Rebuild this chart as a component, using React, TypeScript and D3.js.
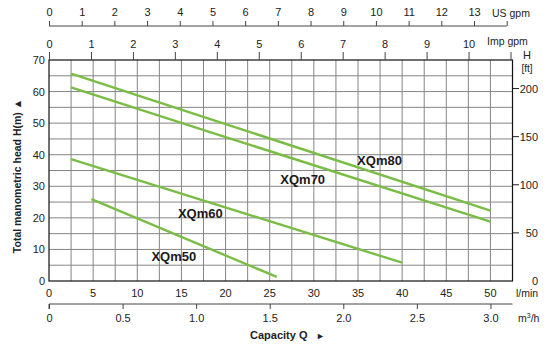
import React, { useEffect, useRef } from 'react';
import * as d3 from 'd3';

// pump curves, flow in l/min and head in m
const xqm80 = [{ q: 2.5, h: 65.7 }, { q: 20, h: 49.7 }, { q: 50, h: 22.3 }];
const xqm70 = [{ q: 2.5, h: 61.3 }, { q: 20, h: 45.6 }, { q: 50, h: 18.8 }];
const xqm60 = [{ q: 2.5, h: 38.6 }, { q: 40, h: 5.8 }];
const xqm50 = [{ q: 4.8, h: 25.9 }, { q: 25.8, h: 1.3 }];
const seriesNames = ['XQm80', 'XQm70', 'XQm60', 'XQm50'];
const labelPos = [{ q: 34.9, h: 36.8 }, { q: 26.2, h: 30.8 }, { q: 14.6, h: 19.9 }, { q: 11.6, h: 6.2 }];

const lminTicks = [0, 5, 10, 15, 20, 25, 30, 35, 40, 45, 50];
const m3hTicks = [0, 0.5, 1.0, 1.5, 2.0, 2.5, 3.0];
const usTicks = [0, 1, 2, 3, 4, 5, 6, 7, 8, 9, 10, 11, 12, 13, 14];
const impTicks = [0, 1, 2, 3, 4, 5, 6, 7, 8, 9, 10, 11];
const headTicks = [0, 10, 20, 30, 40, 50, 60, 70];
const ftTicks = [0, 50, 100, 150, 200];

const green = '#7abd45';
const font = 'Arial, "Liberation Sans", sans-serif';

function Chart() {
  const ref = useRef<SVGSVGElement>(null);

  useEffect(() => {
    const svg = d3.select(ref.current);
    svg.selectAll('*').remove();

    const x = d3.scaleLinear().domain([0, 52.5]).range([49, 512.5]);
    const y = d3.scaleLinear().domain([0, 70]).range([281, 60]);
    const yft = d3.scaleLinear().domain([0, 70 / 0.3048]).range([281, 60]);
    const xus = d3.scaleLinear().domain([0, 14]).range([49, 506.7]);
    const ximp = d3.scaleLinear().domain([0, 11]).range([49, 510.5]);
    const xm3 = d3.scaleLinear().domain([0, 3.15]).range([49, 512.5]);

    const g = svg.append('g').attr('font-family', font).attr('fill', '#222');

    // grid
    const grid = g.append('g').attr('stroke', '#858585').attr('stroke-width', 1);
    d3.range(2.5, 52.5, 2.5).forEach((v) => {
      grid.append('line').attr('x1', x(v)).attr('x2', x(v)).attr('y1', y(0)).attr('y2', y(70));
    });
    d3.range(5, 70, 5).forEach((v) => {
      grid.append('line').attr('x1', x(0)).attr('x2', x(52.5)).attr('y1', y(v)).attr('y2', y(v));
    });

    // frame
    g.append('rect')
      .attr('x', x(0)).attr('y', y(70))
      .attr('width', x(52.5) - x(0)).attr('height', y(0) - y(70))
      .attr('fill', 'none').attr('stroke', '#111').attr('stroke-width', 1.2);

    // curves
    const line = d3.line<{ q: number; h: number }>().x((d) => x(d.q)).y((d) => y(d.h));
    [xqm80, xqm70, xqm60, xqm50].forEach((s) => {
      g.append('path').attr('d', line(s)).attr('fill', 'none')
        .attr('stroke', green).attr('stroke-width', 2.4);
    });
    seriesNames.forEach((n, i) => {
      g.append('text').attr('x', x(labelPos[i].q)).attr('y', y(labelPos[i].h))
        .attr('font-size', 13).attr('font-weight', 'bold').attr('fill', '#1a1a1a').text(n);
    });

    // left head axis
    headTicks.forEach((v) => {
      g.append('text').attr('x', 45).attr('y', y(v) + 4).attr('text-anchor', 'end')
        .attr('font-size', 11).text(v);
    });
    g.append('text')
      .attr('transform', 'translate(21,176) rotate(-90)')
      .attr('text-anchor', 'middle').attr('font-size', 10.5).attr('font-weight', 'bold')
      .text('Total manometric head H(m)  \u25B2');

    // right ft axis
    ftTicks.forEach((v) => {
      if (v > 0) {
        g.append('line').attr('x1', 513).attr('x2', 519).attr('y1', yft(v)).attr('y2', yft(v))
          .attr('stroke', '#222');
      }
      g.append('text').attr('x', 538).attr('y', yft(v) + 4).attr('text-anchor', 'end')
        .attr('font-size', 11).text(v);
    });
    g.append('text').attr('x', 527).attr('y', 59).attr('text-anchor', 'middle').attr('font-size', 11).text('H');
    g.append('text').attr('x', 527).attr('y', 72).attr('text-anchor', 'middle').attr('font-size', 10).text('[ft]');

    // bottom l/min labels
    lminTicks.forEach((v) => {
      g.append('text').attr('x', x(v)).attr('y', 297).attr('text-anchor', 'middle')
        .attr('font-size', 11).text(v);
    });
    g.append('text').attr('x', 516).attr('y', 297).attr('font-size', 10.5).text('l/min');

    // m3/h axis
    const m3 = g.append('g').attr('transform', 'translate(0,304)');
    m3.call(d3.axisBottom(xm3).tickValues(m3hTicks).tickSize(5).tickFormat(d3.format('.1f')));
    m3.select('.tick text').text('0');
    m3.select('.domain').attr('d', `M${xm3(0)},5V0H${x(52.5)}`).attr('stroke', '#444');
    m3.selectAll('.tick line').attr('stroke', '#444');
    m3.selectAll('text').attr('font-size', 11).attr('font-family', font).attr('fill', '#222').attr('dy', '0.9em');
    const m3lab = g.append('text').attr('x', 518).attr('y', 322).attr('font-size', 10.5);
    m3lab.append('tspan').text('m');
    m3lab.append('tspan').attr('dy', -4).attr('font-size', 7).text('3');
    m3lab.append('tspan').attr('dy', 4).text('/h');
    g.append('text').attr('x', 250).attr('y', 339).attr('font-size', 11).attr('font-weight', 'bold')
      .text('Capacity Q');
    g.append('text').attr('x', 316).attr('y', 339).attr('font-size', 9).text('\u25BA');

    // Imp gpm axis on top of plot
    const imp = g.append('g').attr('transform', `translate(0,${y(70)})`);
    imp.call(d3.axisTop(ximp).tickValues(impTicks).tickSize(8).tickFormat((d) => (+d === 11 ? '' : String(d))));
    imp.select('.domain').remove();
    imp.selectAll('.tick line').attr('stroke', '#444');
    imp.selectAll('text').attr('font-size', 11).attr('font-family', font).attr('fill', '#222').attr('dy', '-0.1em');
    g.append('text').attr('x', 487).attr('y', 45).attr('font-size', 10.5).text('Imp gpm');

    // US gpm axis
    const us = g.append('g').attr('transform', 'translate(0,26)');
    us.call(d3.axisTop(xus).tickValues(usTicks).tickSize(5).tickFormat((d) => (+d === 14 ? '' : String(d))));
    us.select('.domain').attr('d', `M${xus(0)},0H${xus(14)}`).attr('stroke', '#444');
    us.selectAll('.tick line').attr('stroke', '#444');
    us.selectAll('text').attr('font-size', 11).attr('font-family', font).attr('fill', '#222').attr('dy', '-0.2em');
    g.append('text').attr('x', 492).attr('y', 17).attr('font-size', 10.5).text('US gpm');
  }, []);

  return <svg ref={ref} width={550} height={352} style={{ display: 'block' }} />;
}

export default function App() {
  return (
    <div style={{ position: 'absolute', left: 0, top: 0, background: '#fff' }}>
      <Chart />
    </div>
  );
}
